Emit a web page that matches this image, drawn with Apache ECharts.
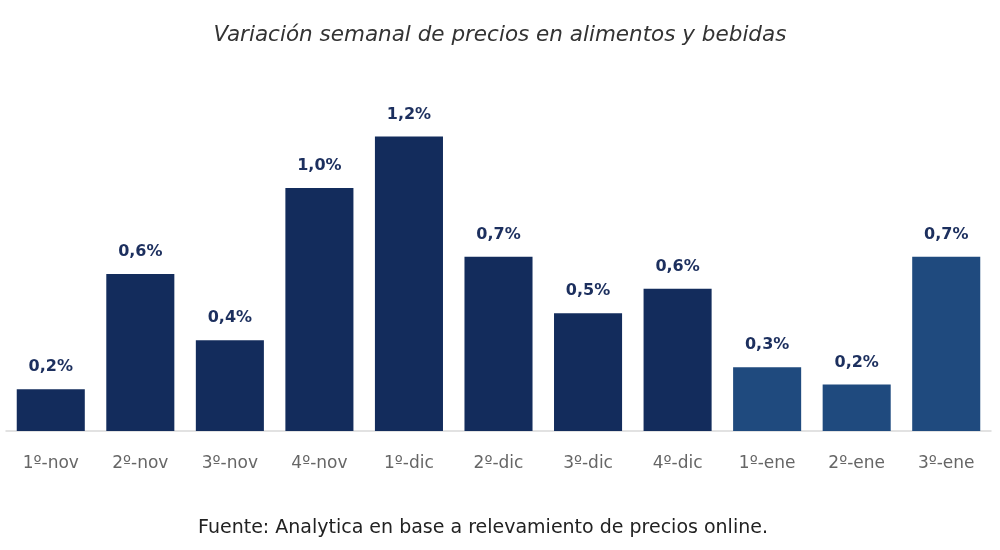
<!DOCTYPE html>
<html>
<head>
<meta charset="utf-8">
<script src="https://cdn.jsdelivr.net/npm/echarts@6/dist/echarts.min.js"></script>
<style>
  html, body { margin: 0; padding: 0; background: #fff; }
  #chart { width: 1000px; height: 550px; }
</style>
</head>
<body>
<div id="chart"></div>
<script>
// semanas y variación (%)
var semanas = ['1º-nov', '2º-nov', '3º-nov', '4º-nov', '1º-dic', '2º-dic', '3º-dic', '4º-dic', '1º-ene', '2º-ene', '3º-ene'];
var variacion = [0.17, 0.64, 0.37, 0.99, 1.2, 0.71, 0.48, 0.58, 0.26, 0.19, 0.71];
// las semanas de enero van en otro tono
var colores = ['#132c5c', '#132c5c', '#132c5c', '#132c5c', '#132c5c', '#132c5c', '#132c5c', '#132c5c', '#1f4a7e', '#1f4a7e', '#1f4a7e'];

var chart = echarts.init(document.getElementById('chart'));

var datos = [];
for (var i in variacion) {
	datos.push({ value: variacion[i], itemStyle: { color: colores[i] } });
}

var option = {
	backgroundColor: '#fff',
	animation: false,
	title: [
		{
			text: 'Variación semanal de precios en alimentos y bebidas',
			left: 'center',
			top: 19,
			textStyle: { fontFamily: 'DejaVu Sans', fontStyle: 'italic', fontWeight: 'normal', fontSize: 21.5, color: '#333' }
		},
		{
			text: 'Fuente: Analytica en base a relevamiento de precios online.',
			left: 478,
			textAlign: 'center',
			top: 514,
			textStyle: { fontFamily: 'DejaVu Sans', fontWeight: 'normal', fontSize: 19, color: '#222' }
		}
	],
	grid: { left: 6, right: 9, top: 63, bottom: 119 },
	xAxis: {
		type: 'category',
		data: semanas,
		axisLine: { lineStyle: { color: '#d9d9d9', width: 1.5 } },
		axisTick: { show: false },
		axisLabel: { margin: 24, fontFamily: 'DejaVu Sans', fontSize: 17, color: '#666' }
	},
	yAxis: {
		type: 'value',
		min: 0,
		max: 1.5,
		show: false,
		splitLine: { show: false }
	},
	series: [{
		type: 'bar',
		data: datos,
		barCategoryGap: '24%',
		label: {
			show: true,
			position: 'top',
			distance: 14,
			fontFamily: 'DejaVu Sans',
			fontWeight: 'bold',
			fontSize: 16,
			color: '#1c2f5e',
			formatter: function (p) {
				return p.value.toFixed(1).replace('.', ',') + '%';
			}
		}
	}]
};

chart.setOption(option);
</script>
</body>
</html>
